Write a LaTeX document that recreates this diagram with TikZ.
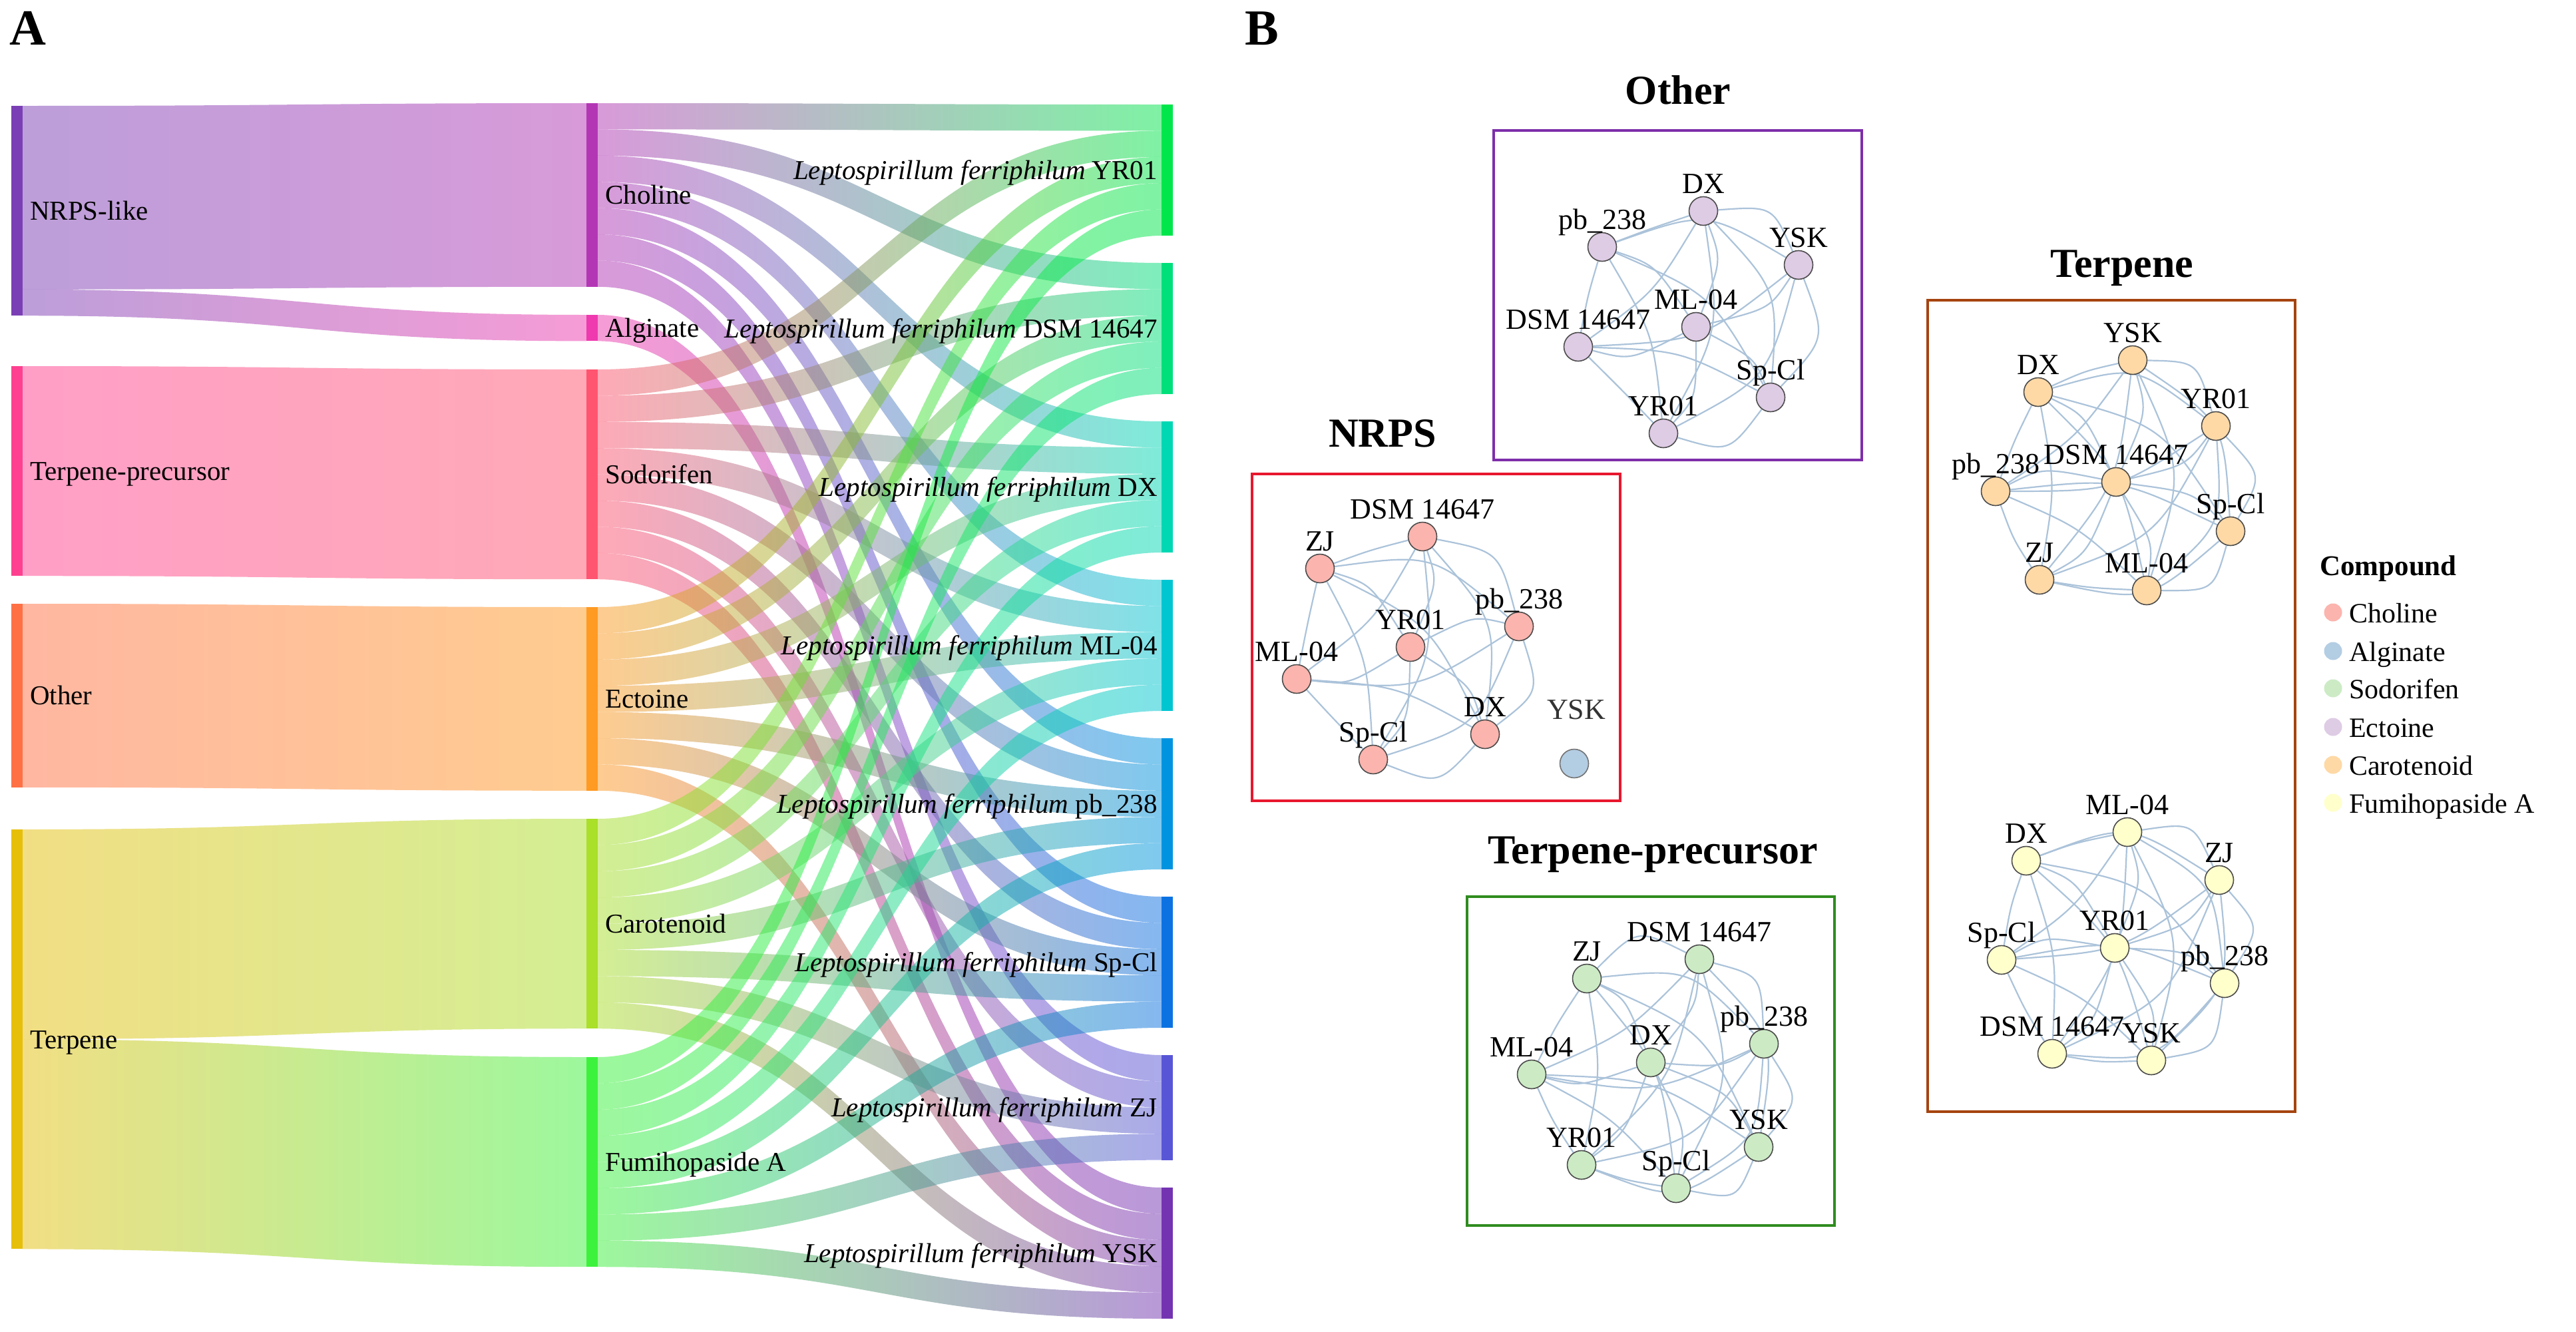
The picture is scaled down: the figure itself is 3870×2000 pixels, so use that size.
\documentclass[tikz,border=0pt]{standalone}
\usepackage{fontspec}
\setmainfont{Liberation Serif}
\usetikzlibrary{calc}
\pgfdeclarelayer{bglayer}
\pgfdeclarelayer{edgelayer}
\pgfsetlayers{bglayer,edgelayer,main}

\definecolor{cNRPS}{HTML}{7B3FB5}
\definecolor{cTP}{HTML}{FF4090}
\definecolor{cOth}{HTML}{FF7045}
\definecolor{cTer}{HTML}{E6BF0A}
\definecolor{cChol}{HTML}{B337B5}
\definecolor{cAlg}{HTML}{EE3AAE}
\definecolor{cSod}{HTML}{FF5570}
\definecolor{cEct}{HTML}{FF9A22}
\definecolor{cCar}{HTML}{AADF2A}
\definecolor{cFum}{HTML}{3CF23C}
\definecolor{cYR}{HTML}{00E64B}
\definecolor{cDSM}{HTML}{00E07A}
\definecolor{cDX}{HTML}{00D8B4}
\definecolor{cML}{HTML}{00C6D2}
\definecolor{cPB}{HTML}{0094E0}
\definecolor{cSP}{HTML}{0C72E2}
\definecolor{cZJ}{HTML}{5856D6}
\definecolor{cYSK}{HTML}{7434B2}
\definecolor{pChol}{HTML}{FBB4AE}
\definecolor{pAlg}{HTML}{B3CDE3}
\definecolor{pSod}{HTML}{CCEBC5}
\definecolor{pEct}{HTML}{DECBE4}
\definecolor{pCar}{HTML}{FED9A6}
\definecolor{pFum}{HTML}{FFFFCC}
\definecolor{edgeblue}{HTML}{ABC3DA}
\definecolor{boxOth}{HTML}{7E2EAA}
\definecolor{boxNR}{HTML}{E8172D}
\definecolor{boxTP}{HTML}{2F8C1F}
\definecolor{boxTer}{HTML}{A5440F}

\newcommand\fsk{\fontsize{41}{49}\selectfont}
\newcommand\fnet{\fontsize{44}{52}\selectfont}
\newcommand\ftitle{\fontsize{62}{72}\selectfont\bfseries}
\newcommand\fpanel{\fontsize{76}{86}\selectfont\bfseries}
\newcommand\flegt{\fontsize{43}{50}\selectfont\bfseries}
\newcommand\fleg{\fontsize{42}{50}\selectfont}

% Sankey band: x0,y0(top),x1,y1(top),thickness,colA,colB
\newcommand\skflow[7]{%
  \pgfmathsetmacro\skxm{(#1+#3)/2}%
  \pgfmathsetmacro\skyb{#2+#5}%
  \pgfmathsetmacro\skyc{#4+#5}%
  \shade[left color=#6, right color=#7, fill opacity=0.5]
    (#1,#2) .. controls (\skxm,#2) and (\skxm,#4) .. (#3,#4)
    -- (#3,\skyc) .. controls (\skxm,\skyc) and (\skxm,\skyb) .. (#1,\skyb) -- cycle;%
}
% middle band: srcTop, srcSlot, tgtTop, tgtSlot, colA, colB
\newcommand\mflow[6]{%
  \pgfmathsetmacro\mya{#1+#2*39.4}%
  \pgfmathsetmacro\myb{#3+#4*39.4}%
  \skflow{898}{\mya}{1745}{\myb}{39.4}{#5}{#6}%
}
% network node: name, x, y, label, fill
\newcommand\gnode[5]{%
  \node[netnode, fill=#5] (#1) at (#2,#3) {};
  \node[netlbl] (#1-l) at (#2,{#3-27}) {#4};%
}
\newcommand\netedge[3]{%
  \coordinate (em) at ($(#1)!0.5!(#2)$);
  \coordinate (ep) at ($(em)!0.28!90:(#2)$);
  \draw[netedgestyle] (#1) .. controls ($(ep)!-0.2!(#3)$) .. (#2);%
}
\newcommand\netedges[2]{%
  \foreach \pa [count=\ia] in {#1}{%
    \foreach \pb [count=\ib] in {#1}{%
      \ifnum\ib>\ia\relax \netedge{\pa}{\pb}{#2}\fi
    }}%
}

\begin{document}
\begin{tikzpicture}[x=1pt,y=-1pt,
  sklbl/.style={font=\fsk, inner sep=0},
  netnode/.style={circle, draw=black!70, line width=1.6, minimum size=43, inner sep=0},
  netlbl/.style={font=\fnet, anchor=base, inner sep=0},
  netedgestyle/.style={draw=edgeblue, line width=2.2},
  ttl/.style={font=\ftitle, anchor=base, inner sep=0},
  legdot/.style={circle, minimum size=27, inner sep=0},
  leglbl/.style={font=\fleg, anchor=base west, inner sep=0}]
\useasboundingbox (0,0) rectangle (3870,2000);
\begin{pgfonlayer}{bglayer}
\fill[white] (0,0) rectangle (3870,2000);
\end{pgfonlayer}

% ---------------- Panel A : Sankey ----------------
\node[font=\fpanel, anchor=base west, inner sep=0] (pA) at (14,67) {A};

% left links
\skflow{34}{159}{881}{155}{275.8}{cNRPS}{cChol}
\skflow{34}{434.8}{881}{473}{39.4}{cNRPS}{cAlg}
\skflow{34}{550}{881}{555}{315.2}{cTP}{cSod}
\skflow{34}{907}{881}{912}{275.8}{cOth}{cEct}
\skflow{34}{1246}{881}{1230}{315.2}{cTer}{cCar}
\skflow{34}{1561.2}{881}{1588}{315.2}{cTer}{cFum}

% middle links
\mflow{155}{0}{157}{0}{cChol}{cYR}
\mflow{155}{1}{395}{0}{cChol}{cDSM}
\mflow{155}{2}{633}{0}{cChol}{cDX}
\mflow{155}{3}{871}{0}{cChol}{cML}
\mflow{155}{4}{1109}{0}{cChol}{cPB}
\mflow{155}{5}{1347}{0}{cChol}{cSP}
\mflow{155}{6}{1585}{0}{cChol}{cZJ}
\mflow{473}{0}{1784}{0}{cAlg}{cYSK}
\mflow{555}{0}{157}{1}{cSod}{cYR}
\mflow{555}{1}{395}{1}{cSod}{cDSM}
\mflow{555}{2}{633}{1}{cSod}{cDX}
\mflow{555}{3}{871}{1}{cSod}{cML}
\mflow{555}{4}{1109}{1}{cSod}{cPB}
\mflow{555}{5}{1347}{1}{cSod}{cSP}
\mflow{555}{6}{1585}{1}{cSod}{cZJ}
\mflow{555}{7}{1784}{1}{cSod}{cYSK}
\mflow{912}{0}{157}{2}{cEct}{cYR}
\mflow{912}{1}{395}{2}{cEct}{cDSM}
\mflow{912}{2}{633}{2}{cEct}{cDX}
\mflow{912}{3}{871}{2}{cEct}{cML}
\mflow{912}{4}{1109}{2}{cEct}{cPB}
\mflow{912}{5}{1347}{2}{cEct}{cSP}
\mflow{912}{6}{1784}{2}{cEct}{cYSK}
\mflow{1230}{0}{157}{3}{cCar}{cYR}
\mflow{1230}{1}{395}{3}{cCar}{cDSM}
\mflow{1230}{2}{633}{3}{cCar}{cDX}
\mflow{1230}{3}{871}{3}{cCar}{cML}
\mflow{1230}{4}{1109}{3}{cCar}{cPB}
\mflow{1230}{5}{1347}{3}{cCar}{cSP}
\mflow{1230}{6}{1585}{2}{cCar}{cZJ}
\mflow{1230}{7}{1784}{3}{cCar}{cYSK}
\mflow{1588}{0}{157}{4}{cFum}{cYR}
\mflow{1588}{1}{395}{4}{cFum}{cDSM}
\mflow{1588}{2}{633}{4}{cFum}{cDX}
\mflow{1588}{3}{871}{4}{cFum}{cML}
\mflow{1588}{4}{1109}{4}{cFum}{cPB}
\mflow{1588}{5}{1347}{4}{cFum}{cSP}
\mflow{1588}{6}{1585}{3}{cFum}{cZJ}
\mflow{1588}{7}{1784}{4}{cFum}{cYSK}

% node bars
\fill[cNRPS] (17,159) rectangle (34,474.2);
\fill[cTP]   (17,550) rectangle (34,865.2);
\fill[cOth]  (17,907) rectangle (34,1182.8);
\fill[cTer]  (17,1246) rectangle (34,1876.4);
\fill[cChol] (881,155) rectangle (898,430.8);
\fill[cAlg]  (881,473) rectangle (898,512.4);
\fill[cSod]  (881,555) rectangle (898,870.2);
\fill[cEct]  (881,912) rectangle (898,1187.8);
\fill[cCar]  (881,1230) rectangle (898,1545.2);
\fill[cFum]  (881,1588) rectangle (898,1903.2);
\fill[cYR]   (1745,157) rectangle (1762,354);
\fill[cDSM]  (1745,395) rectangle (1762,592);
\fill[cDX]   (1745,633) rectangle (1762,830);
\fill[cML]   (1745,871) rectangle (1762,1068);
\fill[cPB]   (1745,1109) rectangle (1762,1306);
\fill[cSP]   (1745,1347) rectangle (1762,1544);
\fill[cZJ]   (1745,1585) rectangle (1762,1742.6);
\fill[cYSK]  (1745,1784) rectangle (1762,1981);

% labels
\node[sklbl, anchor=base west] (lNR) at (45,330.6) {NRPS-like};
\node[sklbl, anchor=base west] (lTP) at (45,721.6) {Terpene-precursor};
\node[sklbl, anchor=base west] (lOT) at (45,1058.9) {Other};
\node[sklbl, anchor=base west] (lTE) at (45,1575.2) {Terpene};
\node[sklbl, anchor=base west] (mCh) at (909,306.9) {Choline};
\node[sklbl, anchor=base west] (mAl) at (909,506.7) {Alginate};
\node[sklbl, anchor=base west] (mSo) at (909,726.6) {Sodorifen};
\node[sklbl, anchor=base west] (mEc) at (909,1063.9) {Ectoine};
\node[sklbl, anchor=base west] (mCa) at (909,1401.6) {Carotenoid};
\node[sklbl, anchor=base west] (mFu) at (909,1759.6) {Fumihopaside A};
\node[sklbl, anchor=base east] (rYR) at (1739,269.5) {\textit{Leptospirillum ferriphilum} YR01};
\node[sklbl, anchor=base east] (rDS) at (1739,507.5) {\textit{Leptospirillum ferriphilum} DSM 14647};
\node[sklbl, anchor=base east] (rDX) at (1739,745.5) {\textit{Leptospirillum ferriphilum} DX};
\node[sklbl, anchor=base east] (rML) at (1739,983.5) {\textit{Leptospirillum ferriphilum} ML-04};
\node[sklbl, anchor=base east] (rPB) at (1739,1221.5) {\textit{Leptospirillum ferriphilum} pb\_238};
\node[sklbl, anchor=base east] (rSP) at (1739,1459.5) {\textit{Leptospirillum ferriphilum} Sp-Cl};
\node[sklbl, anchor=base east] (rZJ) at (1739,1677.8) {\textit{Leptospirillum ferriphilum} ZJ};
\node[sklbl, anchor=base east] (rYS) at (1739,1896.5) {\textit{Leptospirillum ferriphilum} YSK};

% ---------------- Panel B : networks ----------------
\node[font=\fpanel, anchor=base west, inner sep=0] (pB) at (1870,67) {B};

% titles
\node[ttl] (tOther) at (2521,156) {Other};
\node[ttl] (tNRPS) at (2077,671) {NRPS};
\node[ttl] (tTP) at (2483,1297) {Terpene-precursor};
\node[ttl] (tTer) at (3188,416) {Terpene};

% boxes
\draw[boxOth, line width=4] (2244,196) rectangle (2797,691);
\draw[boxNR, line width=4] (1881,712) rectangle (2434,1203);
\draw[boxTP, line width=3.6] (2204,1347) rectangle (2756,1841);
\draw[boxTer, line width=4] (2896,451) rectangle (3448,1670);

% Other (Ectoine)
\gnode{oDX}{2559}{317}{DX}{pEct}
\gnode{oPB}{2407}{371}{pb\_238}{pEct}
\gnode{oYSK}{2702}{398}{YSK}{pEct}
\gnode{oML}{2548}{491}{ML-04}{pEct}
\gnode{oDSM}{2371}{521}{DSM 14647}{pEct}
\gnode{oSP}{2660}{597}{Sp-Cl}{pEct}
\gnode{oYR}{2499}{651}{YR01}{pEct}
\coordinate (oC) at (2535,478);

% NRPS (Choline + Alginate)
\gnode{nDSM}{2137}{806}{DSM 14647}{pChol}
\gnode{nZJ}{1983}{854}{ZJ}{pChol}
\gnode{nYR}{2119}{972}{YR01}{pChol}
\gnode{nPB}{2282}{941}{pb\_238}{pChol}
\gnode{nML}{1948}{1020}{ML-04}{pChol}
\gnode{nDX}{2231}{1103}{DX}{pChol}
\gnode{nSP}{2063}{1141}{Sp-Cl}{pChol}
\node[netnode, fill=pAlg, draw=black!55] (nYSK) at (2365,1147) {};
\node[netlbl, text=black!80] (nYSK-l) at (2368,1080) {YSK};
\coordinate (nC) at (2109,977);

% Terpene-precursor (Sodorifen)
\gnode{tZJ}{2384}{1470}{ZJ}{pSod}
\gnode{tDSM}{2553}{1441}{DSM 14647}{pSod}
\gnode{tPB}{2650}{1568}{pb\_238}{pSod}
\gnode{tDX}{2480}{1596}{DX}{pSod}
\gnode{tML}{2301}{1614}{ML-04}{pSod}
\gnode{tYSK}{2642}{1723}{YSK}{pSod}
\gnode{tYR}{2376}{1750}{YR01}{pSod}
\gnode{tSP}{2518}{1785}{Sp-Cl}{pSod}
\coordinate (tC) at (2488,1618);

% Terpene: Carotenoid
\gnode{cYSK}{3204}{541}{YSK}{pCar}
\gnode{cDX}{3062}{589}{DX}{pCar}
\gnode{cYR}{3329}{640}{YR01}{pCar}
\gnode{cPB}{2998}{738}{pb\_238}{pCar}
\gnode{cDSM}{3179}{724}{DSM 14647}{pCar}
\gnode{cSP}{3351}{798}{Sp-Cl}{pCar}
\gnode{cZJ}{3064}{871}{ZJ}{pCar}
\gnode{cML}{3225}{887}{ML-04}{pCar}
\coordinate (cC) at (3176,723);

% Terpene: Fumihopaside A
\gnode{fML}{3196}{1250}{ML-04}{pFum}
\gnode{fDX}{3044}{1293}{DX}{pFum}
\gnode{fZJ}{3334}{1322}{ZJ}{pFum}
\gnode{fSP}{3007}{1442}{Sp-Cl}{pFum}
\gnode{fYR}{3177}{1424}{YR01}{pFum}
\gnode{fPB}{3342}{1477}{pb\_238}{pFum}
\gnode{fDSM}{3083}{1583}{DSM 14647}{pFum}
\gnode{fYSK}{3232}{1593}{YSK}{pFum}
\coordinate (fC) at (3177,1423);

\begin{pgfonlayer}{edgelayer}
\netedges{oDX,oPB,oYSK,oML,oDSM,oSP,oYR}{oC}
\netedges{nDSM,nZJ,nYR,nPB,nML,nDX,nSP}{nC}
\netedges{tZJ,tDSM,tPB,tDX,tML,tYSK,tYR,tSP}{tC}
\netedges{cYSK,cDX,cYR,cPB,cDSM,cSP,cZJ,cML}{cC}
\netedges{fML,fDX,fZJ,fSP,fYR,fPB,fDSM,fYSK}{fC}
\end{pgfonlayer}

% legend
\node[font=\flegt, anchor=base west, inner sep=0] (legT) at (3485,864) {Compound};
\node[legdot, fill=pChol] (lg1) at (3505,920) {};
\node[leglbl] (lg1t) at (3529,935) {Choline};
\node[legdot, fill=pAlg] (lg2) at (3505,978) {};
\node[leglbl] (lg2t) at (3529,993) {Alginate};
\node[legdot, fill=pSod] (lg3) at (3505,1034) {};
\node[leglbl] (lg3t) at (3529,1049) {Sodorifen};
\node[legdot, fill=pEct] (lg4) at (3505,1092) {};
\node[leglbl] (lg4t) at (3529,1107) {Ectoine};
\node[legdot, fill=pCar] (lg5) at (3505,1149) {};
\node[leglbl] (lg5t) at (3529,1164) {Carotenoid};
\node[legdot, fill=pFum] (lg6) at (3505,1206) {};
\node[leglbl] (lg6t) at (3529,1221) {Fumihopaside A};
\end{tikzpicture}
\end{document}
